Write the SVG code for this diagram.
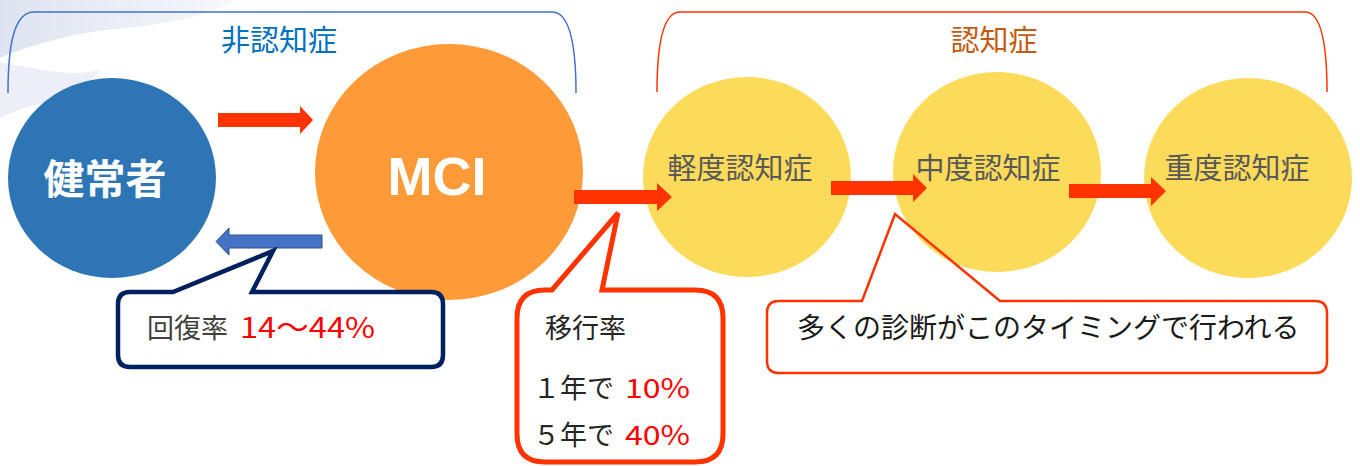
<svg xmlns="http://www.w3.org/2000/svg" width="1360" height="466" viewBox="0 0 1360 466">
<defs>
<linearGradient id="bg" x1="0" y1="0" x2="1" y2="0">
<stop offset="0" stop-color="#DDE3F0"/>
<stop offset="1" stop-color="#F6F8FC"/>
</linearGradient>
<style>
.jp{font-family:"Noto Sans CJK JP","Noto Sans",sans-serif}
.lbl{font-size:29px;fill:#595959;text-anchor:middle}
.arrow{fill:#FF3300}
.call{font-size:27px;fill:#262626}
.red{fill:#FF0000}
</style>
</defs>
<rect width="1360" height="466" fill="#FFFFFF"/>
<g id="background">
<path d="M0,0 H235 C205,18 160,25 115,29 C70,34 30,45 0,58 Z" fill="url(#bg)"/>
<path d="M0,62 C35,68 70,78 100,70 C88,84 78,95 70,106 C45,98 22,108 0,118 Z" fill="#ECEFF7"/>
</g>
<g id="brackets" fill="none" stroke-width="1.5">
<path d="M8,93 C8,45 14,12 34,12 L552,12 C570,12 576,45 576,93" stroke="#4472C4"/>
<path d="M657,92 C657,45 663,12 680,12 L1305,12 C1321,12 1327,45 1327,92" stroke="#FF3300"/>
</g>
<g id="group-labels" class="jp" font-size="29px" text-anchor="middle">
<text x="279" y="51" fill="#0070C0">非認知症</text>
<text x="994" y="51" fill="#C55A11">認知症</text>
</g>
<g id="node-healthy">
<ellipse cx="112" cy="178" rx="104" ry="100" fill="#2E75B6"/>
<text class="jp" x="105" y="194" font-size="41px" font-weight="bold" fill="#FFFFFF" text-anchor="middle">健常者</text>
</g>
<g id="node-mci">
<ellipse cx="449" cy="172" rx="134" ry="128" fill="#FE9A37"/>
<text x="437" y="195" font-family="'Liberation Sans',Arial,sans-serif" font-size="54px" font-weight="bold" fill="#FFFFFF" text-anchor="middle">MCI</text>
</g>
<g id="node-mild">
<ellipse cx="747" cy="177" rx="104" ry="100" fill="#FCDB5A"/>
<text class="jp lbl" x="740" y="179">軽度認知症</text>
</g>
<g id="node-moderate">
<ellipse cx="997" cy="172" rx="104" ry="100" fill="#FCDB5A"/>
<text class="jp lbl" x="988" y="179">中度認知症</text>
</g>
<g id="node-severe">
<ellipse cx="1248" cy="178" rx="104" ry="100" fill="#FCDB5A"/>
<text class="jp lbl" x="1237" y="179">重度認知症</text>
</g>
<g id="connectors">
<polygon class="arrow" points="218,113 300,113 300,106 313,120 300,134 300,127 218,127"/>
<polygon points="322,235 229,235 229,228 216,241.5 229,255 229,248 322,248" fill="#4472C4" stroke="#2F528F" stroke-width="1"/>
<polygon class="arrow" points="574,190 657,190 657,183 672,197 657,211 657,204 574,204"/>
<polygon class="arrow" points="831,181 913,181 913,174 927,188 913,202 913,195 831,195"/>
<polygon class="arrow" points="1069,184 1151,184 1151,177 1166,191 1151,206 1151,198 1069,198"/>
</g>
<g id="callout-recovery">
<path d="M130,292 L173,292 L273,251 L252,292 L431,292 Q443,292 443,304 L443,355 Q443,367 431,367 L130,367 Q118,367 118,355 L118,304 Q118,292 130,292 Z" fill="#FFFFFF" stroke="#002060" stroke-width="4.5" stroke-linejoin="miter"/>
<text class="jp" x="147" y="338" font-size="27px" fill="#404040">回復率</text>
<text class="jp red" x="240" y="338" font-size="28px" textLength="135" lengthAdjust="spacingAndGlyphs">14～44%</text>
</g>
<g id="callout-transition">
<path d="M545,290 L552,290 L618,213 L602,290 L695,290 Q723,290 723,318 L723,434 Q723,462 695,462 L545,462 Q517,462 517,434 L517,318 Q517,290 545,290 Z" fill="#FFFFFF" stroke="#FF3300" stroke-width="5" stroke-linejoin="miter"/>
<text class="jp call" x="545" y="338">移行率</text>
<text class="jp call" x="533" y="398">１年で</text>
<text class="jp red" x="625" y="398" font-size="27px" textLength="65" lengthAdjust="spacingAndGlyphs">10%</text>
<text class="jp call" x="533" y="445">５年で</text>
<text class="jp red" x="625" y="445" font-size="27px" textLength="65" lengthAdjust="spacingAndGlyphs">40%</text>
</g>
<g id="callout-diagnosis">
<path d="M779,301 L862,301 L895,214 L1000,301 L1315,301 Q1327,301 1327,313 L1327,361 Q1327,373 1315,373 L779,373 Q767,373 767,361 L767,313 Q767,301 779,301 Z" fill="none" stroke="#FF3300" stroke-width="2.5" stroke-linejoin="miter"/>
<text class="jp" x="797" y="338" font-size="28px" fill="#1A1A1A">多くの診断がこのタイミングで行われる</text>
</g>
</svg>
